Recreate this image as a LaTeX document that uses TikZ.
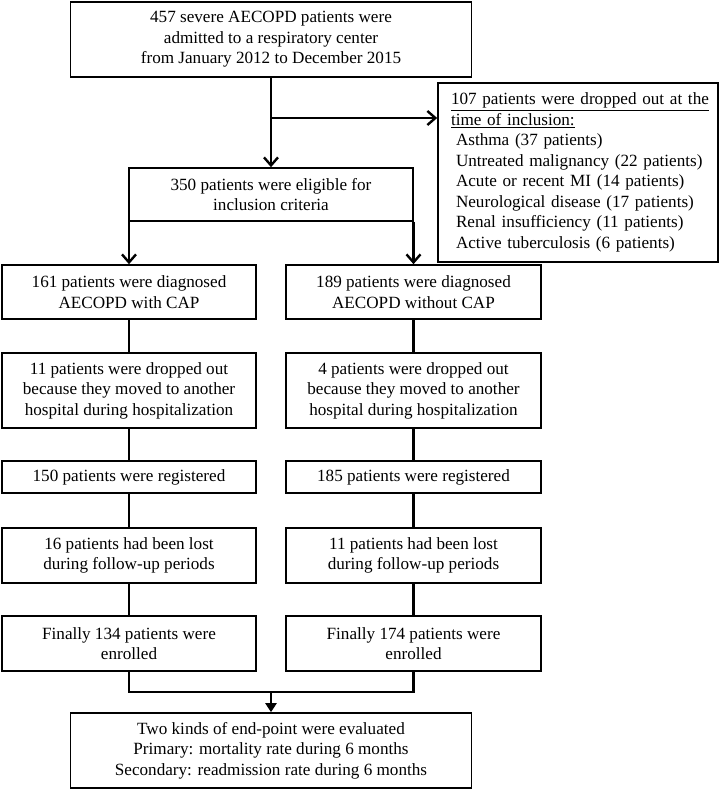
\documentclass[tikz,border=0pt]{standalone}
\usepackage{fontspec}
\setmainfont{Liberation Serif}
\usetikzlibrary{arrows.meta}
\tikzset{
  box/.style={draw, line width=1.6bp, inner sep=0pt, align=center,
    font=\fontsize{17.2}{20.6}\selectfont},
  conn/.style={line width=2.6bp},
  openarr/.style={conn, -{Straight Barb[length=8bp, width=14bp, line width=2.4bp]}},
  fillarr/.style={conn, -{Triangle[length=9bp, width=11bp]}}
}
\begin{document}
\begin{tikzpicture}[x=1bp, y=-1bp]
\useasboundingbox (0,0) rectangle (720,791);
% top
\node[box, minimum width=401bp, minimum height=75bp] (top) at (271,39.5)
  {457 severe AECOPD patients were\\admitted to a respiratory center\\from January 2012 to December 2015};
% exclusion
\node[box, minimum width=280bp, minimum height=179bp, text width=254bp,
  inner xsep=13bp, align=left] (excl) at (578,172.5)
  {\underline{107 patients were dropped out at the}\\
   \underline{time of inclusion:}\\
   \hspace*{5bp}Asthma (37 patients)\\
   \hspace*{5bp}Untreated malignancy (22 patients)\\
   \hspace*{5bp}Acute or recent MI (14 patients)\\
   \hspace*{5bp}Neurological disease (17 patients)\\
   \hspace*{5bp}Renal insufficiency (11 patients)\\
   \hspace*{5bp}Active tuberculosis (6 patients)};
% eligible
\node[box, minimum width=284bp, minimum height=53bp] (elig) at (271,194.5)
  {350 patients were eligible for\\inclusion criteria};
% left column
\node[box, minimum width=254bp, minimum height=54bp] (diagL) at (129,292)
  {161 patients were diagnosed\\AECOPD with CAP};
\node[box, minimum width=254bp, minimum height=75bp] (dropL) at (129,390.5)
  {11 patients were dropped out\\because they moved to another\\hospital during hospitalization};
\node[box, minimum width=254bp, minimum height=32bp] (regL) at (129,477)
  {150 patients were registered};
\node[box, minimum width=254bp, minimum height=55bp] (lostL) at (129,555.5)
  {16 patients had been lost\\during follow-up periods};
\node[box, minimum width=254bp, minimum height=55bp] (finL) at (129,643.5)
  {Finally 134 patients were\\enrolled};
% right column
\node[box, minimum width=255bp, minimum height=54bp] (diagR) at (413.5,292)
  {189 patients were diagnosed\\AECOPD without CAP};
\node[box, minimum width=255bp, minimum height=75bp] (dropR) at (413.5,390.5)
  {4 patients were dropped out\\because they moved to another\\hospital during hospitalization};
\node[box, minimum width=255bp, minimum height=32bp] (regR) at (413.5,477)
  {185 patients were registered};
\node[box, minimum width=255bp, minimum height=55bp] (lostR) at (413.5,555.5)
  {11 patients had been lost\\during follow-up periods};
\node[box, minimum width=255bp, minimum height=55bp] (finR) at (413.5,643.5)
  {Finally 174 patients were\\enrolled};
% end
\node[box, minimum width=401bp, minimum height=75bp] (endp) at (271,750.5)
  {Two kinds of end-point were evaluated\\Primary: mortality rate during 6 months\\Secondary: readmission rate during 6 months};
% connectors
\coordinate (branch) at (271,118);
\draw[openarr] (top.south) -- (elig.north);
\draw[openarr] (branch) -- (excl.west |- branch);
\draw[openarr] (diagL.north |- elig.south) -- (diagL.north);
\draw[openarr] (diagR.north |- elig.south) -- (diagR.north);
\draw[conn] (diagL) -- (dropL);
\draw[conn] (dropL) -- (regL);
\draw[conn] (regL) -- (lostL);
\draw[conn] (lostL) -- (finL);
\draw[conn] (diagR) -- (dropR);
\draw[conn] (dropR) -- (regR);
\draw[conn] (regR) -- (lostR);
\draw[conn] (lostR) -- (finR);
\coordinate (merge) at (271,692);
\draw[conn] (finL.south) |- (merge) -| (finR.south);
\draw[fillarr] (merge) -- (endp.north);
\end{tikzpicture}
\end{document}
